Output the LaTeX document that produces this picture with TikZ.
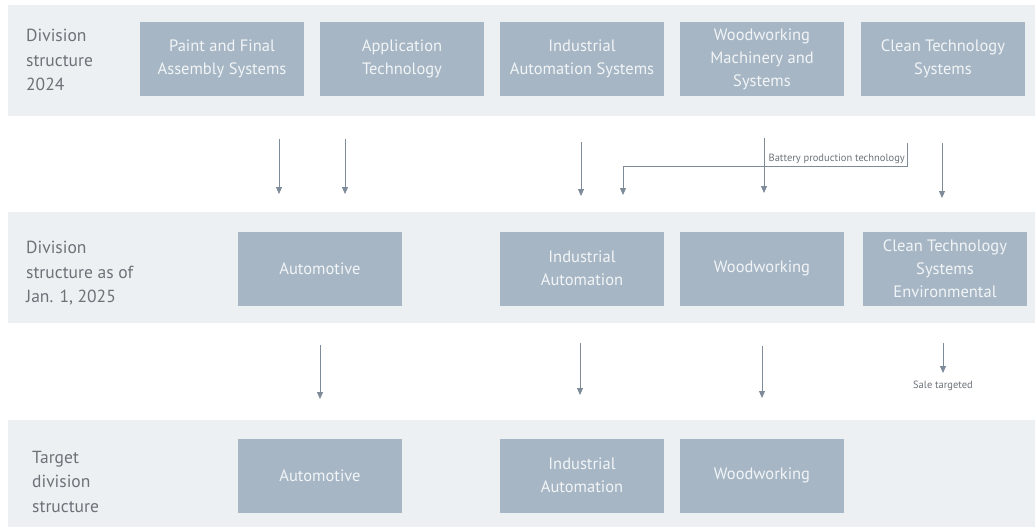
\documentclass[tikz,border=0pt]{standalone}
\usepackage{fontspec}
\setmainfont{PT Sans}
\usetikzlibrary{arrows.meta}
\definecolor{bandbg}{HTML}{EDF0F3}
\definecolor{boxfill}{HTML}{A6B6C4}
\definecolor{boxtext}{HTML}{F2F5F7}
\definecolor{labeltext}{HTML}{6C7278}
\definecolor{arrowcol}{HTML}{7E8B99}
\tikzset{
  band/.style={fill=bandbg, draw=none},
  divbox/.style={fill=boxfill, draw=none, minimum width=164pt, minimum height=74pt, inner sep=0pt,
     text=boxtext, align=center, font=\fontsize{16.5}{23}\selectfont},
  rowlabel/.style={anchor=north west, text=labeltext, align=left, inner sep=0pt,
     font=\fontsize{17.5}{24.5}\selectfont},
  flow/.style={draw=arrowcol, line width=0.8pt, -{Triangle[width=6pt,length=7pt]}},
  smalltext/.style={text=labeltext, inner sep=0pt, font=\fontsize{10.5}{12}\selectfont},
}
\begin{document}
\begin{tikzpicture}[x=1pt,y=-1pt]
\useasboundingbox (0,0) rectangle (1035,527);
% bands
\fill[band] (8,5) rectangle (1035,116);
\fill[band] (8,212) rectangle (1035,323);
\fill[band] (8,420) rectangle (1035,527);
% row labels
\node[rowlabel] (l1) at (26,29) {Division\\structure\\2024};
\node[rowlabel] (l2) at (26,241) {Division\\structure as of\\Jan. 1, 2025};
\node[rowlabel] (l3) at (32,451) {Target\\division\\structure};
% row 1
\node[divbox] (a1) at (222,59) {Paint and Final\\Assembly Systems};
\node[divbox] (a2) at (402,59) {Application\\Technology};
\node[divbox] (a3) at (582,59) {Industrial\\Automation Systems};
\node[divbox] (a4) at (762,59) {Woodworking\\Machinery and\\Systems};
\node[divbox] (a5) at (943,59) {Clean Technology\\Systems};
% row 2
\node[divbox] (b1) at (320,268.5) {Automotive};
\node[divbox] (b2) at (582,268.5) {Industrial\\Automation};
\node[divbox] (b3) at (762,268.5) {Woodworking};
\node[divbox] (b4) at (945,268.5) {Clean Technology\\Systems\\Environmental};
% row 3
\node[divbox] (c1) at (320,475.5) {Automotive};
\node[divbox] (c2) at (582,475.5) {Industrial\\Automation};
\node[divbox] (c3) at (762,475.5) {Woodworking};
% arrow coordinates row 1 -> 2
\coordinate (s1) at (279,139); \coordinate (e1) at (279,194);
\coordinate (s2) at (345,139); \coordinate (e2) at (345,194);
\coordinate (s3) at (581,142); \coordinate (e3) at (581,196);
\coordinate (s4) at (764,138); \coordinate (e4) at (764,193);
\coordinate (s5) at (942,143); \coordinate (e5) at (942,198);
\coordinate (bs) at (907,143); \coordinate (bc) at (907,166);
\coordinate (be) at (623,195);
\draw[flow] (s1) -- (e1);
\draw[flow] (s2) -- (e2);
\draw[flow] (s3) -- (e3);
\draw[flow] (s4) -- (e4);
\draw[flow] (s5) -- (e5);
\draw[flow] (bs) -- (bc) -| (be);
\node[smalltext, anchor=south east] (bt) at (905,163.5) {Battery production technology};
% arrow coordinates row 2 -> 3
\coordinate (t1) at (320,345); \coordinate (f1) at (320,399);
\coordinate (t2) at (580,343); \coordinate (f2) at (580,395);
\coordinate (t3) at (762,346); \coordinate (f3) at (762,398);
\coordinate (t4) at (943,343); \coordinate (f4) at (943,373);
\draw[flow] (t1) -- (f1);
\draw[flow] (t2) -- (f2);
\draw[flow] (t3) -- (f3);
\draw[flow] (t4) -- (f4);
\node[smalltext] (st) at (943,386) {Sale targeted};
\end{tikzpicture}
\end{document}
